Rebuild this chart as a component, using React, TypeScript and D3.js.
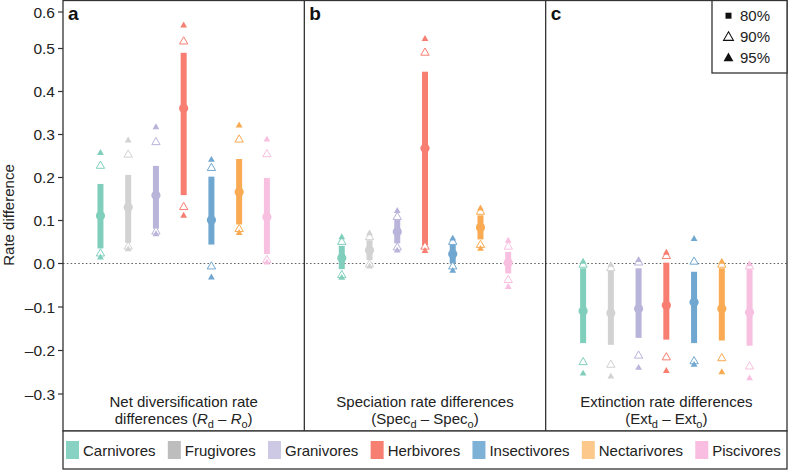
import React from "react";
import * as d3 from "d3";

const categories = ["Carnivores", "Frugivores", "Granivores", "Herbivores", "Insectivores", "Nectarivores", "Piscivores"];
const colors = ["#80cfbc", "#d2d2d2", "#b9b4da", "#f77e70", "#70a7d0", "#f9aa52", "#f8c0e0"];
const legendColors = ["#87d2c2", "#bdbdbd", "#cdc9e5", "#f77f72", "#7eb1d6", "#fcc88c", "#f8bde0"];
const panelLetters = ["a", "b", "c"];
const yTicks = [-0.3, -0.2, -0.1, 0.0, 0.1, 0.2, 0.3, 0.4, 0.5, 0.6];
const ciLevels = ["80%", "90%", "95%"];

// Panel a: net diversification
const netMid = [0.111, 0.131, 0.159, 0.361, 0.101, 0.166, 0.108];
const netLo80 = [0.035, 0.048, 0.081, 0.159, 0.044, 0.091, 0.022];
const netHi80 = [0.185, 0.206, 0.227, 0.490, 0.202, 0.243, 0.199];
const netLo90 = [0.023, 0.039, 0.074, 0.131, -0.007, 0.080, 0.008];
const netHi90 = [0.227, 0.253, 0.282, 0.519, 0.222, 0.288, 0.254];
const netLo95 = [0.014, 0.033, 0.068, 0.111, -0.032, 0.071, 0.002];
const netHi95 = [0.257, 0.286, 0.317, 0.563, 0.241, 0.321, 0.288];

// Panel b: speciation
const specMid = [0.013, 0.031, 0.074, 0.268, 0.022, 0.084, 0.002];
const specLo80 = [-0.013, 0.008, 0.047, 0.043, 0.0, 0.056, -0.023];
const specHi80 = [0.041, 0.054, 0.101, 0.446, 0.043, 0.112, 0.027];
const specLo90 = [-0.027, -0.002, 0.037, 0.039, -0.007, 0.043, -0.038];
const specHi90 = [0.050, 0.061, 0.108, 0.490, 0.050, 0.120, 0.039];
const specLo95 = [-0.033, -0.007, 0.030, 0.029, -0.017, 0.034, -0.054];
const specHi95 = [0.061, 0.070, 0.122, 0.526, 0.058, 0.128, 0.053];

// Panel c: extinction
const extMid = [-0.109, -0.114, -0.104, -0.096, -0.089, -0.104, -0.112];
const extLo80 = [-0.183, -0.187, -0.171, -0.175, -0.183, -0.177, -0.189];
const extHi80 = [-0.011, -0.015, -0.011, 0.002, -0.019, -0.011, -0.013];
const extLo90 = [-0.227, -0.233, -0.212, -0.216, -0.225, -0.218, -0.237];
const extHi90 = [-0.003, -0.011, 0.002, 0.017, 0.004, -0.003, -0.007];
const extLo95 = [-0.253, -0.260, -0.240, -0.247, -0.233, -0.250, -0.264];
const extHi95 = [0.004, -0.003, 0.008, 0.025, 0.057, 0.004, -0.002];

const W = 788;
const H = 470;
const FONT = "'Liberation Sans', Arial, Helvetica, sans-serif";

function measure(text: string, size: number) {
  if (typeof document === "undefined") return text.length * size * 0.5;
  const c = document.createElement("canvas").getContext("2d");
  if (!c) return text.length * size * 0.5;
  c.font = `${size}px ${FONT}`;
  return c.measureText(text).width;
}

export default function App() {
  const left = 63, right = 787, top = 0.5, bottom = 431;
  const y = d3.scaleLinear().domain([-0.3, 0, 0.5, 0.6]).range([394, 263.5, 48.5, 12]);
  const panelX = d3.scaleBand().domain(panelLetters).range([left, right]);
  const bw = panelX.bandwidth();
  const fmt = (v: number) => d3.format(".1f")(v).replace(/[-\u2212]/g, "\u2013");

  const panels = [
    { mid: netMid, lo80: netLo80, hi80: netHi80, lo90: netLo90, hi90: netHi90, lo95: netLo95, hi95: netHi95 },
    { mid: specMid, lo80: specLo80, hi80: specHi80, lo90: specLo90, hi90: specHi90, lo95: specLo95, hi95: specHi95 },
    { mid: extMid, lo80: extLo80, hi80: extHi80, lo90: extLo90, hi90: extHi90, lo95: extLo95, hi95: extHi95 },
  ];

  const triFilled = d3.symbol().type(d3.symbolTriangle).size(20)()!;
  const triOpen = d3.symbol().type(d3.symbolTriangle).size(30)()!;
  const triLegend = d3.symbol().type(d3.symbolTriangle).size(42)()!;

  // bottom legend layout
  const legSize = 15;
  let lx = 66;
  const legItems = categories.map((c, i) => {
    const tw = measure(c, legSize);
    const item = { c, i, x: lx, tw };
    lx += 13 + 4 + tw + 12.3;
    return item;
  });

  const titleY1 = 407, titleY2 = 424;

  return (
    <svg width={W} height={H} style={{ position: "absolute", left: 0, top: 0, background: "#fff" }} fontFamily={FONT}>
      <rect x={0} y={0} width={W} height={H} fill="#fff" />
      {/* zero line */}
      <line x1={left} x2={right} y1={y(0)} y2={y(0)} stroke="#666" strokeWidth={1.2} strokeDasharray="1.6,2.2" />
      {panelLetters.map((p, pi) => {
        const x0 = panelX(p)!;
        const xs = d3.scalePoint().domain(categories).range([x0, x0 + bw]).padding(1.35);
        const d = panels[pi];
        return (
          <g key={p}>
            {categories.map((c, i) => {
              const cx = xs(c)!;
              const col = colors[i];
              return (
                <g key={c}>
                  <rect x={cx - 3} width={6} y={y(d.hi80[i])} height={y(d.lo80[i]) - y(d.hi80[i])} fill={col} />
                  <circle cx={cx} cy={y(d.mid[i])} r={4.6} fill={col} />
                  <path d={triOpen} transform={`translate(${cx},${y(d.hi90[i])})`} fill="#fff" stroke={col} strokeWidth={1} />
                  <path d={triOpen} transform={`translate(${cx},${y(d.lo90[i])})`} fill="#fff" stroke={col} strokeWidth={1} />
                  <path d={triFilled} transform={`translate(${cx},${y(d.hi95[i])})`} fill={col} />
                  <path d={triFilled} transform={`translate(${cx},${y(d.lo95[i])})`} fill={col} />
                </g>
              );
            })}
            <text x={x0 + 5} y={20} fontSize={19} fontWeight="bold" fill="#111">{p}</text>
          </g>
        );
      })}
      {/* panel titles */}
      <g fontSize={15} fill="#222" textAnchor="middle">
        <text x={panelX("a")! + bw / 2} y={titleY1}>Net diversification rate</text>
        <text x={panelX("a")! + bw / 2} y={titleY2}>
          differences (<tspan fontStyle="italic">R</tspan>
          <tspan fontSize={11} dy={4}>d</tspan>
          <tspan dy={-4}> – </tspan>
          <tspan fontStyle="italic">R</tspan>
          <tspan fontSize={11} dy={4}>o</tspan>
          <tspan dy={-4}>)</tspan>
        </text>
        <text x={panelX("b")! + bw / 2} y={titleY1}>Speciation rate differences</text>
        <text x={panelX("b")! + bw / 2} y={titleY2}>
          (Spec<tspan fontSize={11} dy={4}>d</tspan>
          <tspan dy={-4}> – Spec</tspan>
          <tspan fontSize={11} dy={4}>o</tspan>
          <tspan dy={-4}>)</tspan>
        </text>
        <text x={panelX("c")! + bw / 2} y={titleY1}>Extinction rate differences</text>
        <text x={panelX("c")! + bw / 2} y={titleY2}>
          (Ext<tspan fontSize={11} dy={4}>d</tspan>
          <tspan dy={-4}> – Ext</tspan>
          <tspan fontSize={11} dy={4}>o</tspan>
          <tspan dy={-4}>)</tspan>
        </text>
      </g>
      {/* frame */}
      <rect x={left} y={top} width={right - left} height={bottom - top} fill="none" stroke="#333" strokeWidth={1.3} />
      {panelLetters.slice(1).map((p) => (
        <line key={p} x1={panelX(p)!} x2={panelX(p)!} y1={top} y2={bottom} stroke="#333" strokeWidth={1.3} />
      ))}
      {/* y axis */}
      <g fontSize={15.5} fill="#222">
        {yTicks.map((t) => (
          <g key={t}>
            <line x1={left - 5} x2={left} y1={y(t)} y2={y(t)} stroke="#333" strokeWidth={1.2} />
            <text x={left - 8} y={y(t) + 5.5} textAnchor="end">{fmt(t)}</text>
          </g>
        ))}
      </g>
      <text transform={`translate(13.5,${215}) rotate(-90)`} textAnchor="middle" fontSize={15} fill="#222">Rate difference</text>
      {/* CI legend */}
      <rect x={712} y={top} width={right - 712} height={72.5} fill="#fff" stroke="#333" strokeWidth={1.3} />
      {ciLevels.map((l, i) => {
        const cy = 15.7 + i * 20.8;
        return (
          <g key={l}>
            {i === 0 && <rect x={725.5} y={cy - 3} width={6} height={6} fill="#111" />}
            {i === 1 && <path d={triLegend} transform={`translate(728.5,${cy + 1})`} fill="none" stroke="#111" strokeWidth={1.1} />}
            {i === 2 && <path d={triLegend} transform={`translate(728.5,${cy + 1})`} fill="#111" />}
            <text x={740} y={cy + 5.5} fontSize={15} fill="#222">{l}</text>
          </g>
        );
      })}
      {/* bottom legend */}
      <rect x={left} y={bottom} width={right - left} height={469 - bottom} fill="#fff" stroke="#333" strokeWidth={1.3} />
      {legItems.map((it) => (
        <g key={it.c}>
          <rect x={it.x} y={441} width={13} height={18} fill={legendColors[it.i]} />
          <text x={it.x + 17} y={455.5} fontSize={legSize} fill="#222">{it.c}</text>
        </g>
      ))}
    </svg>
  );
}
